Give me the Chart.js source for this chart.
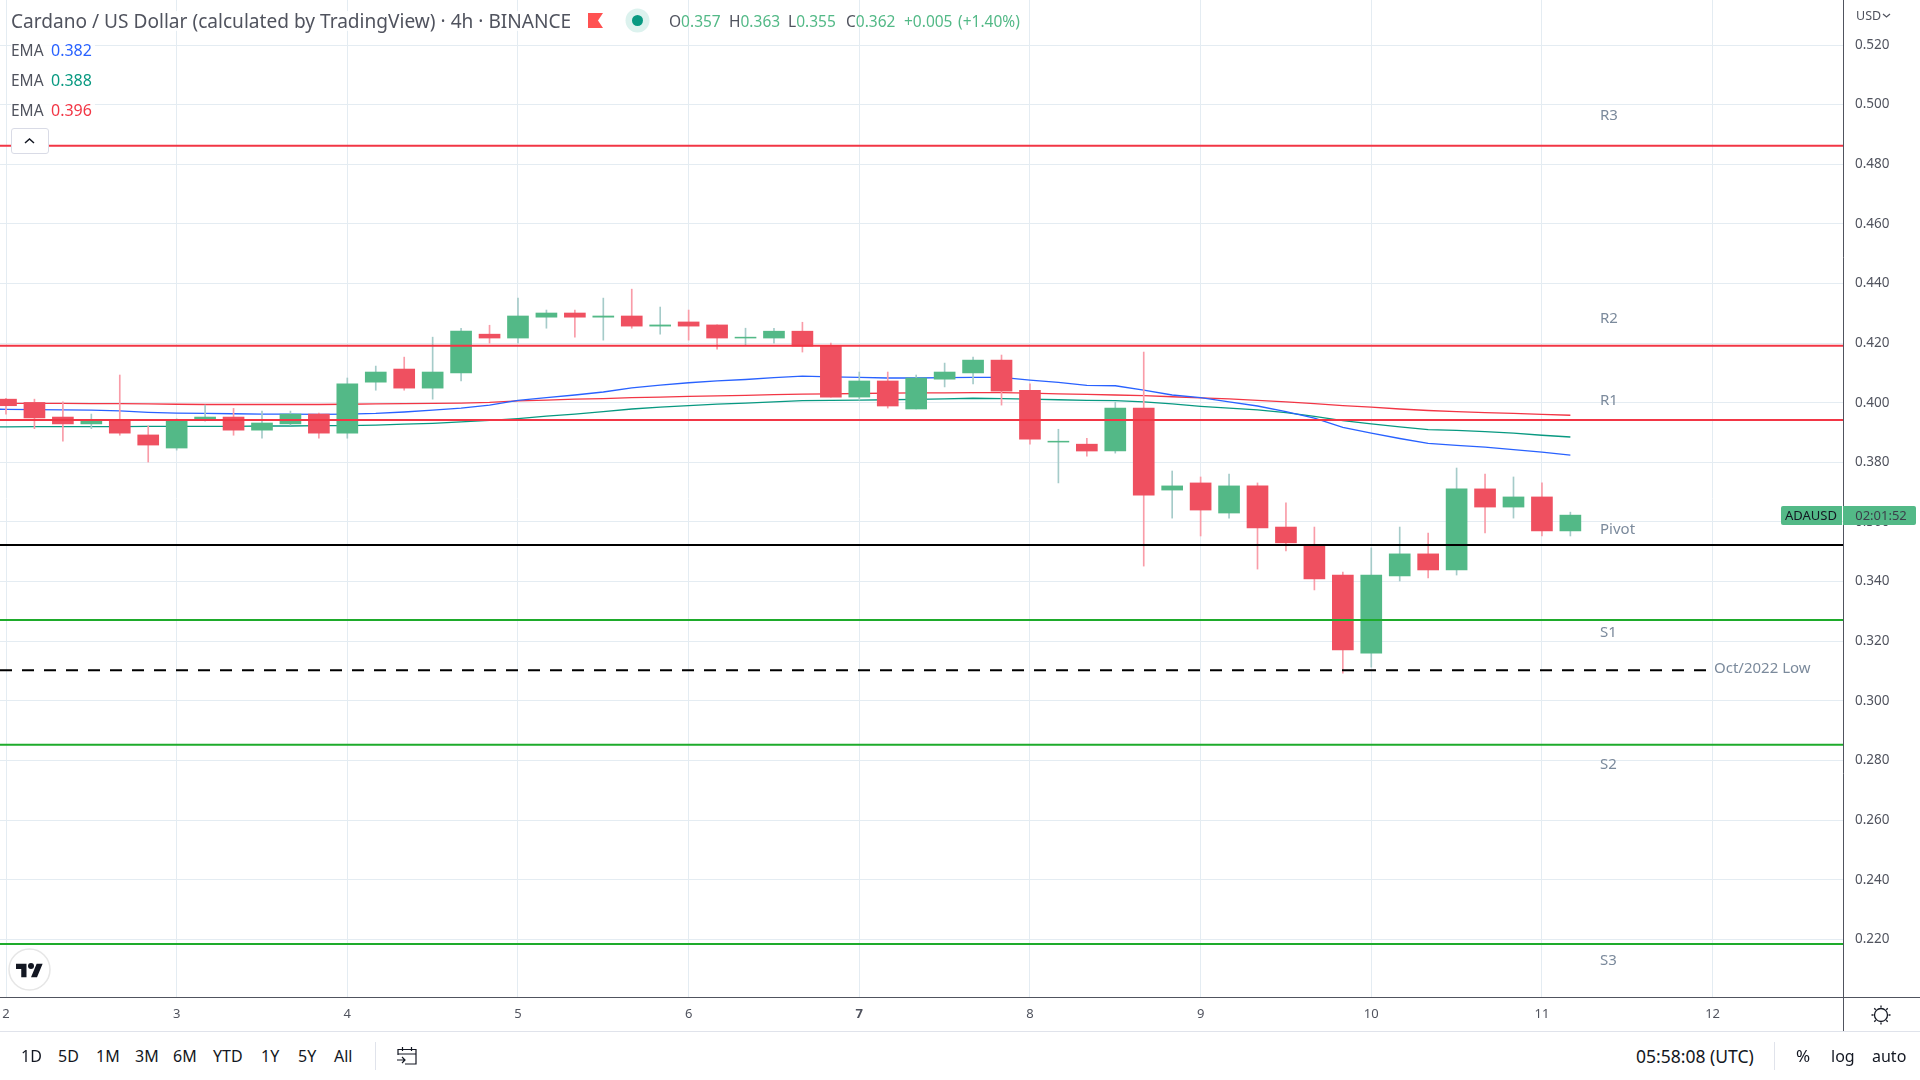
<!doctype html>
<html lang="en">
<head>
<meta charset="utf-8">
<title>Cardano / US Dollar</title>
<script src="https://cdn.jsdelivr.net/npm/chart.js@4/dist/chart.umd.js"></script>
<style>
  html, body { margin: 0; padding: 0; background: #fff; overflow: hidden; }
  body { width: 1920px; height: 1080px; position: relative; font-family: "Noto Sans", sans-serif; color: #131722; }
  canvas { position: absolute; left: 0; top: 0; }
  .txt { position: absolute; white-space: nowrap; line-height: 20px; }
  .head { font-size: 19.1px; color: #50535e; background: rgba(255,255,255,.85); }
  .leg { font-size: 15.5px; color: #50535e; }
  .ema { font-size: 15.5px; color: #50535e; background: rgba(255,255,255,.85); width: 84px; }
  .ema span { position: absolute; left: 40px; font-size: 16px; }
  .up { color: #53b987; }
  .tool { font-size: 16px; top: 1046px; color: #131722; }
  .sep { position: absolute; width: 1px; background: #e0e3eb; top: 1042px; height: 28px; }
</style>
</head>
<body>
<canvas id="price" width="1920" height="1031"></canvas>

<div class="txt head" style="left:11px;top:11px;">Cardano / US Dollar (calculated by TradingView) · 4h · BINANCE</div>
<svg style="position:absolute;left:588px;top:13px" width="15" height="15"><path d="M0 0H15L10 7.5L15 15H0Z" fill="#ff5252"/></svg>
<svg style="position:absolute;left:625px;top:8px" width="25" height="25"><circle cx="12.5" cy="12.5" r="12" fill="#dcf2ee"/><circle cx="12.5" cy="12.5" r="5.5" fill="#089981"/></svg>
<div class="txt leg" style="left:669px;top:11px;">O<span class="up">0.357</span></div>
<div class="txt leg" style="left:729px;top:11px;">H<span class="up">0.363</span></div>
<div class="txt leg" style="left:788px;top:11px;">L<span class="up">0.355</span></div>
<div class="txt leg" style="left:846px;top:11px;">C<span class="up">0.362</span></div>
<div class="txt leg up" style="left:904px;top:11px;">+0.005</div>
<div class="txt leg up" style="left:958px;top:11px;">(+1.40%)</div>

<div class="txt ema" style="left:11px;top:40px;">EMA<span style="color:#2962ff">0.382</span></div>
<div class="txt ema" style="left:11px;top:70px;">EMA<span style="color:#089981">0.388</span></div>
<div class="txt ema" style="left:11px;top:100px;">EMA<span style="color:#f23645">0.396</span></div>
<div style="position:absolute;left:11px;top:128px;width:36px;height:24px;background:#fff;border:1px solid #d9dbe6;border-radius:3px;"></div>
<svg style="position:absolute;left:23px;top:137px" width="13" height="8"><path d="M2 6L6.5 2L11 6" fill="none" stroke="#131722" stroke-width="1.5"/></svg>

<svg style="position:absolute;left:8px;top:948px" width="43" height="43"><circle cx="21.5" cy="21.5" r="20.5" fill="#fff" stroke="#e6e6e6" stroke-width="1.5"/></svg>
<svg style="position:absolute;left:16px;top:963px" width="27" height="15" viewBox="0 3 36 20"><path d="M14 22H7V11H0V4h14v18zM28 22h-8l7.5-18h8L28 22z" fill="#131722"/><circle cx="20" cy="7" r="4" fill="#131722"/></svg>

<div class="txt" style="left:1856px;top:6px;font-size:12.5px;color:#50535e;">USD</div>
<svg style="position:absolute;left:1882px;top:13px" width="9" height="6"><path d="M1 1L4.5 4L8 1" fill="none" stroke="#50535e" stroke-width="1.2"/></svg>
<svg style="position:absolute;left:1870px;top:1003px" width="22" height="24" fill="none" stroke="#131722" stroke-width="1.3"><circle cx="11" cy="12" r="6.5"/><path d="M11 2.5v2M11 19.5v2M1.5 12h2M18.5 12h2M4.3 5.3l1.4 1.4M16.3 17.3l1.4 1.4M4.3 18.7l1.4-1.4M16.3 6.7l1.4-1.4"/></svg>

<div style="position:absolute;left:0;top:1031px;width:1920px;height:1px;background:#e0e3eb;"></div>
<div class="txt tool" style="left:21px;">1D</div>
<div class="txt tool" style="left:58px;">5D</div>
<div class="txt tool" style="left:96px;">1M</div>
<div class="txt tool" style="left:135px;">3M</div>
<div class="txt tool" style="left:173px;">6M</div>
<div class="txt tool" style="left:213px;">YTD</div>
<div class="txt tool" style="left:261px;">1Y</div>
<div class="txt tool" style="left:298px;">5Y</div>
<div class="txt tool" style="left:334px;">All</div>
<div class="sep" style="left:375px;"></div>
<svg style="position:absolute;left:396px;top:1046px" width="22" height="20" fill="none" stroke="#131722" stroke-width="1.2"><path d="M2 9V3.5H20V18H9M2 8H20M6.5 1V5M15.5 1V5M1 14H9M6 11L9 14L6 17"/></svg>
<div class="txt tool" style="left:1636px;font-size:17.5px;">05:58:08 (UTC)</div>
<div class="sep" style="left:1774px;"></div>
<div class="txt tool" style="left:1796px;font-size:17px;">%</div>
<div class="txt tool" style="left:1831px;">log</div>
<div class="txt tool" style="left:1872px;">auto</div>

<script type="text/javascript">
// 4h candles, index 0 = midnight of the 2nd
const opens  = [.4012,.4001,.3952,.3929,.3942,.3892,.3848,.3942,.3952,.3908,.3929,.3962,.3898,.4069,.4113,.4049,.4100,.4230,.4217,.4287,.4301,.4287,.4291,.4257,.4271,.4261,.4217,.4217,.4240,.4190,.4019,.4073,.3979,.4079,.4100,.4143,.4042,.3868,.3861,.3838,.3982,.3707,.3731,.3630,.3721,.3583,.3519,.3422,.3160,.3419,.3493,.3439,.3711,.3650,.3684,.3570];
const highs  = [.4015,.4012,.4003,.3962,.4093,.3922,.3946,.3992,.3981,.3972,.3972,.3965,.4083,.4123,.4153,.4220,.4250,.4260,.4351,.4311,.4311,.4351,.4381,.4321,.4311,.4261,.4250,.4250,.4270,.4200,.4103,.4103,.4093,.4133,.4153,.4160,.4063,.3911,.3881,.4002,.4170,.3771,.3751,.3761,.3731,.3664,.3583,.3432,.3513,.3583,.3563,.3781,.3761,.3751,.3731,.3633];
const lows   = [.3962,.3913,.3871,.3913,.3891,.3801,.3841,.3938,.3891,.3881,.3925,.3881,.3881,.4042,.4042,.4012,.4073,.4200,.4200,.4250,.4220,.4210,.4250,.4230,.4210,.4180,.4193,.4200,.4170,.4019,.4009,.3982,.3979,.4053,.4063,.3992,.3861,.3731,.3821,.3831,.3452,.3613,.3553,.3613,.3442,.3503,.3372,.3093,.3113,.3402,.3412,.3422,.3563,.3613,.3553,.3553];
const closes = [.3990,.3949,.3929,.3942,.3898,.3858,.3938,.3952,.3908,.3932,.3962,.3898,.4063,.4103,.4049,.4103,.4240,.4217,.4291,.4301,.4287,.4291,.4257,.4261,.4257,.4217,.4220,.4240,.4190,.4019,.4073,.3989,.4083,.4103,.4143,.4039,.3878,.3871,.3838,.3982,.3690,.3721,.3640,.3721,.3580,.3530,.3409,.3171,.3422,.3493,.3439,.3711,.3650,.3684,.3570,.3623];

// EMAs start one candle before the left edge, index -1
const emaBlue  = [.3979,.3978,.3977,.3976,.3975,.3973,.3968,.3965,.3964,.3963,.3962,.3962,.3961,.3962,.3964,.3969,.3975,.3982,.3992,.4008,.4017,.4026,.4036,.4050,.4059,.4067,.4073,.4078,.4084,.4089,.4087,.4085,.4083,.4083,.4084,.4085,.4085,.4076,.4068,.4058,.4057,.4042,.4026,.4017,.4003,.3989,.3970,.3948,.3917,.3898,.3880,.3864,.3857,.3851,.3843,.3834,.3824];
const emaGreen = [.3919,.3919,.3920,.3920,.3920,.3920,.3921,.3921,.3921,.3921,.3922,.3922,.3923,.3923,.3925,.3928,.3931,.3936,.3941,.3947,.3955,.3962,.3970,.3979,.3985,.3990,.3995,.3999,.4003,.4007,.4008,.4009,.4010,.4011,.4013,.4015,.4014,.4012,.4010,.4008,.4007,.4003,.3996,.3988,.3982,.3976,.3967,.3954,.3940,.3929,.3919,.3910,.3907,.3903,.3898,.3891,.3885];
const emaRed   = [.3999,.3998,.3998,.3998,.3997,.3997,.3996,.3995,.3994,.3994,.3994,.3994,.3994,.3995,.3996,.3997,.3998,.3999,.4001,.4006,.4009,.4012,.4014,.4017,.4019,.4021,.4023,.4025,.4027,.4029,.4030,.4031,.4032,.4033,.4033,.4034,.4034,.4032,.4030,.4028,.4026,.4024,.4020,.4016,.4013,.4008,.4003,.3997,.3990,.3985,.3979,.3974,.3970,.3967,.3964,.3961,.3958];

// support / resistance levels
const levelValues = [.4862,.4191,.3942,.3523,.3271,.2853,.2184];
const levelColors = ['#f23645','#f23645','#f23645','#000000','#1eab2b','#1eab2b','#1eab2b'];
const octLow = .3103;
const octLowEnd = 59.8;

const levelNames = ['R3','R2','R1','Pivot','S1','S2','S3'];
const levelLabelY = [.4969,.4288,.4012,.3580,.3234,.2791,.2134];

const dayLabels = ['2','3','4','5','6','7','8','9','10','11','12'];
const candlesPerDay = 6;
const priceTicks = [.22,.24,.26,.28,.30,.32,.34,.36,.38,.40,.42,.44,.46,.48,.50,.52];

const xMin = -0.211, xMax = 64.62;
const yMin = 0.20065, yMax = 0.5351;

const green = '#53b987', red = '#ef5060';

function isUp(i) { return closes[i] >= opens[i]; }

// the scales reserve room for half a tick label, the chart runs edge to edge
function noPadding(s) { s.paddingTop = s.paddingBottom = s.paddingLeft = s.paddingRight = 0; }

const overlay = {
  id: 'overlay',
  afterDraw(chart) {
    const c = chart.ctx, y = chart.scales.y, area = chart.chartArea;
    c.save();
    // axis borders
    c.strokeStyle = '#50535e';
    c.lineWidth = 1;
    c.beginPath();
    c.moveTo(0, area.bottom + .5); c.lineTo(1920, area.bottom + .5);
    c.moveTo(area.right - .5, 0); c.lineTo(area.right - .5, 1031);
    c.stroke();

    // level names
    c.font = '15px "Noto Sans"';
    c.fillStyle = '#7b8a9c';
    c.textBaseline = 'middle';
    levelNames.forEach((n, k) => c.fillText(n, 1600, y.getPixelForValue(levelLabelY[k]) + 1.5));
    c.fillText('Oct/2022 Low', 1714, y.getPixelForValue(.3112) + 1);

    // last price tag
    const ty = Math.round(y.getPixelForValue(closes[closes.length - 1])) + 1;
    c.fillStyle = green;
    c.beginPath(); c.roundRect(1781, ty - 10, 61, 19, [2, 0, 0, 2]); c.fill();
    c.beginPath(); c.roundRect(1843, ty - 10, 73, 19, [0, 2, 2, 0]); c.fill();
    c.font = '13px "Noto Sans"';
    c.textAlign = 'center';
    c.fillStyle = '#131722';
    c.fillText('ADAUSD', 1811, ty);
    c.fillStyle = '#3b3f4a';
    c.fillText('02:01:52', 1881, ty);
    c.restore();
  }
};

const datasets = [];

levelValues.forEach((v, k) => {
  datasets.push({
    type: 'line', order: 0, borderColor: levelColors[k], borderWidth: 2, pointRadius: 0,
    data: [{x: xMin, y: v}, {x: xMax, y: v}]
  });
});
datasets.push({
  type: 'line', order: 0, borderColor: '#000000', borderWidth: 2, pointRadius: 0, borderDash: [12, 10],
  data: [{x: xMin, y: octLow}, {x: octLowEnd, y: octLow}]
});

// bodies on top of wicks, EMAs behind both
datasets.push({
  type: 'bar', order: 1, grouped: false, barThickness: 21,
  data: opens.map((o, i) => ({x: i, y: [o, closes[i]]})),
  backgroundColor: opens.map((o, i) => isUp(i) ? green : red)
});
datasets.push({
  type: 'bar', order: 2, grouped: false, barThickness: 1,
  data: lows.map((l, i) => ({x: i, y: [l, highs[i]]})),
  backgroundColor: lows.map((l, i) => isUp(i) ? '#a5cbc9' : '#f99ca8')
});
[[emaBlue, '#2962ff'], [emaGreen, '#089981'], [emaRed, '#f23645']].forEach(e => {
  datasets.push({
    type: 'line', order: 3, borderColor: e[1], borderWidth: 1.3, pointRadius: 0, tension: 0,
    data: e[0].map((v, i) => ({x: i - 1, y: v}))
  });
});

new Chart(document.getElementById('price').getContext('2d'), {
  type: 'bar',
  data: { datasets: datasets },
  plugins: [overlay],
  options: {
    responsive: false,
    animation: false,
    layout: { padding: 0, autoPadding: false },
    plugins: { legend: { display: false }, tooltip: { enabled: false } },
    scales: {
      x: {
        type: 'linear', position: 'bottom', offset: false, min: xMin, max: xMax,
        afterBuildTicks: s => { s.ticks = dayLabels.map((d, k) => ({value: k * candlesPerDay})); },
        afterFit: s => { s.height = 34; noPadding(s); },
        grid: { color: '#e4ecf2', drawTicks: false, offset: false },
        border: { display: false },
        ticks: {
          autoSkip: false, maxRotation: 0, padding: 9, color: '#50535e',
          font: ctx => ({family: '"Noto Sans"', size: 13, weight: ctx.tick && ctx.tick.value === 30 ? 'bold' : 'normal'}),
          callback: v => dayLabels[v / candlesPerDay]
        }
      },
      y: {
        type: 'linear', position: 'right', min: yMin, max: yMax,
        afterBuildTicks: s => { s.ticks = priceTicks.map(v => ({value: v})); },
        afterFit: s => { s.width = 76; noPadding(s); },
        grid: { color: '#e4ecf2', drawTicks: false },
        border: { display: false },
        ticks: {
          autoSkip: false, padding: 11, color: '#50535e', font: {family: '"Noto Sans"', size: 13.5},
          callback: v => v.toFixed(3)
        }
      }
    }
  }
});
</script>
</body>
</html>
